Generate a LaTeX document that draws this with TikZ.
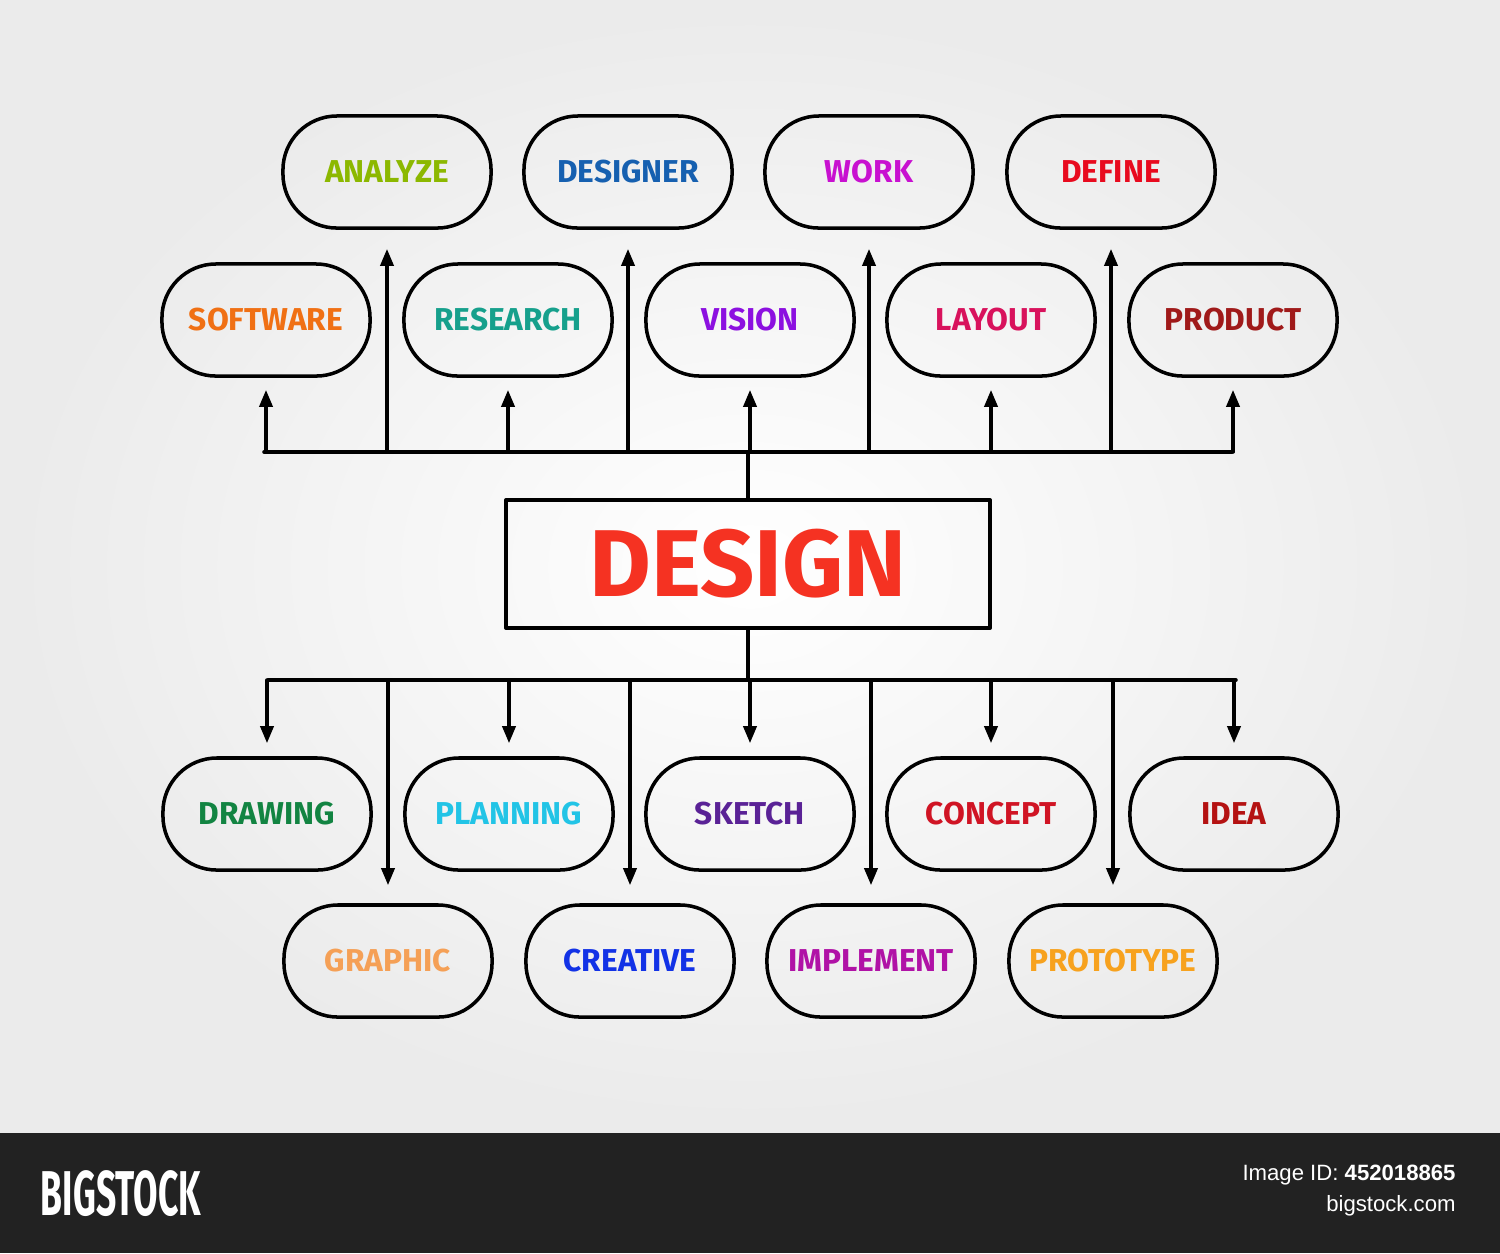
\documentclass[tikz,border=0pt]{standalone}
\usepackage{fontspec}
\setmainfont{Fira Sans}
\newfontfamily\footfont{Liberation Sans}
\usepackage{xcolor}
\usetikzlibrary{arrows.meta}

\definecolor{cAnalyze}{HTML}{8CB800}
\definecolor{cDesigner}{HTML}{1660B0}
\definecolor{cWork}{HTML}{C810D0}
\definecolor{cDefine}{HTML}{E80A1E}
\definecolor{cSoftware}{HTML}{F07014}
\definecolor{cResearch}{HTML}{16A08C}
\definecolor{cVision}{HTML}{8C10E0}
\definecolor{cLayout}{HTML}{D8125C}
\definecolor{cProduct}{HTML}{A01A1A}
\definecolor{cDrawing}{HTML}{128442}
\definecolor{cPlanning}{HTML}{22C4E6}
\definecolor{cSketch}{HTML}{5A2296}
\definecolor{cConcept}{HTML}{D01424}
\definecolor{cIdea}{HTML}{B41212}
\definecolor{cGraphic}{HTML}{F5A056}
\definecolor{cCreative}{HTML}{1232E6}
\definecolor{cImplement}{HTML}{B012A6}
\definecolor{cPrototype}{HTML}{F7A21E}
\definecolor{cDesign}{HTML}{F53222}
\definecolor{footbar}{HTML}{222222}

\begin{document}
\begin{tikzpicture}[line cap=round,line join=round,x=0.01cm,y=-0.01cm,
  pill/.style={draw, line width=1.pt, rounded corners=0.54cm, minimum width=2.08cm,
    minimum height=1.12cm, font=\bfseries\fontsize{9}{11}\selectfont},
  bus/.style={line width=1.pt},
  arr/.style={-{Triangle[length=0.17cm,width=0.13cm]}, line width=1.pt}]

\useasboundingbox (0,0) rectangle (1500,1253);
\fill [inner color=white, outer color=black!8] (0,0) rectangle (1500,1133);
\fill [footbar] (0,1133) rectangle (1500,1253);

% top rows
\node [pill, text=cAnalyze] (analyze) at (387,172) {ANALYZE};
\node [pill, text=cDesigner] (designer) at (628,172) {DESIGNER};
\node [pill, text=cWork] (work) at (869,172) {WORK};
\node [pill, text=cDefine] (define) at (1111,172) {DEFINE};

\node [pill, text=cSoftware] (software) at (266,320) {SOFTWARE};
\node [pill, text=cResearch] (research) at (508,320) {RESEARCH};
\node [pill, text=cVision] (vision) at (750,320) {VISION};
\node [pill, text=cLayout] (layout) at (991,320) {LAYOUT};
\node [pill, text=cProduct] (product) at (1233,320) {PRODUCT};

% centre
\node [draw, line width=1.pt, minimum width=4.84cm, minimum height=1.28cm, text=cDesign,
  font=\bfseries\fontsize{27}{30}\selectfont] (design) at (748,564) {DESIGN};

% bottom rows
\node [pill, text=cDrawing] (drawing) at (267,814) {DRAWING};
\node [pill, text=cPlanning] (planning) at (509,814) {PLANNING};
\node [pill, text=cSketch] (sketch) at (750,814) {SKETCH};
\node [pill, text=cConcept] (concept) at (991,814) {CONCEPT};
\node [pill, text=cIdea] (idea) at (1234,814) {IDEA};

\node [pill, text=cGraphic] (graphic) at (388,961) {GRAPHIC};
\node [pill, text=cCreative] (creative) at (630,961) {CREATIVE};
\node [pill, text=cImplement] (implement) at (871,961) {IMPLEMENT};
\node [pill, text=cPrototype] (prototype) at (1113,961) {PROTOTYPE};

% upper bus
\coordinate (tl) at (264,452);
\coordinate (tr) at (1232,452);
\draw [bus] (tl) -- (tr);
\draw [bus] (design.north) -- (design.north |- tl);
\foreach \n in {software,research,vision,layout,product}
  \draw [arr, shorten >=0.12cm] (\n.south |- tl) -- (\n.south);
\foreach \n in {analyze,designer,work,define}
  \draw [arr, shorten >=0.19cm] (\n.south |- tl) -- (\n.south);

% lower bus
\coordinate (bl) at (268,680);
\coordinate (br) at (1236,680);
\draw [bus] (bl) -- (br);
\draw [bus] (design.south) -- (design.south |- bl);
\foreach \n in {drawing,planning,sketch,concept,idea}
  \draw [arr, shorten >=0.13cm] (\n.north |- bl) -- (\n.north);
\foreach \n in {graphic,creative,implement,prototype}
  \draw [arr, shorten >=0.18cm] (\n.north |- bl) -- (\n.north);

% footer
\node [anchor=west, text=white, font=\bfseries\fontsize{18}{20}\selectfont,
  xscale=0.56, transform shape] (brand) at (34,1194) {BIGSTOCK};
\node [anchor=east, text=white, font=\footfont\fontsize{6.3}{7}\selectfont]
  (imgid) at (1468,1175) {Image ID: \textbf{452018865}};
\node [anchor=east, text=white, font=\footfont\fontsize{6.3}{7}\selectfont]
  (site) at (1468,1206) {bigstock.com};
\end{tikzpicture}
\end{document}
